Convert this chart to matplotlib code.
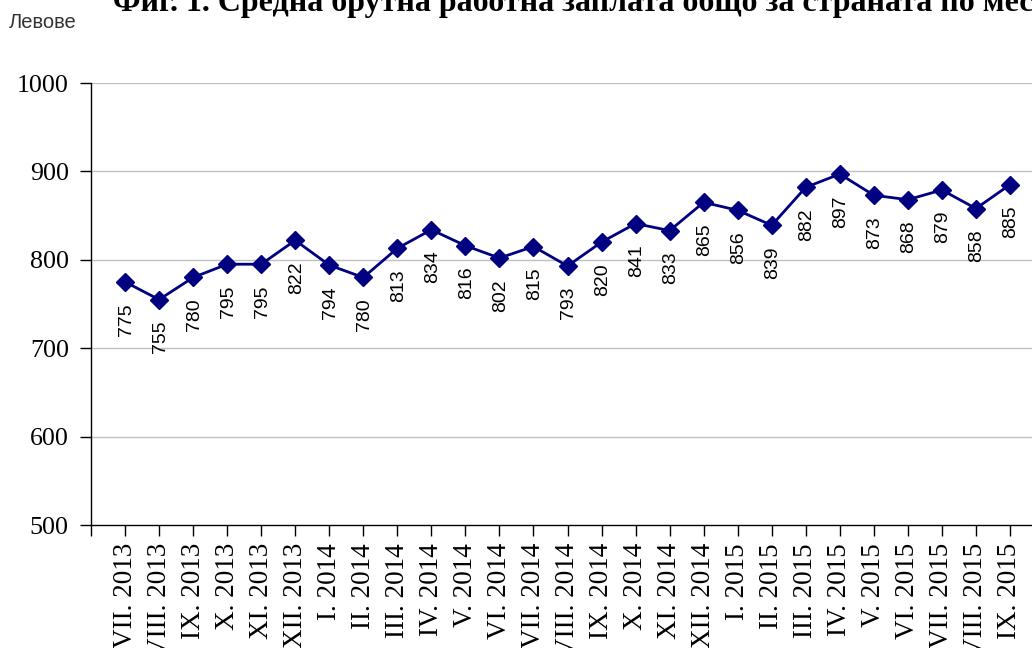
import matplotlib
matplotlib.use("Agg")
import matplotlib.pyplot as plt

months = ["VII. 2013", "VIII. 2013", "IX. 2013", "X. 2013", "XI. 2013", "XII. 2013",
          "I. 2014", "II. 2014", "III. 2014", "IV. 2014", "V. 2014", "VI. 2014",
          "VII. 2014", "VIII. 2014", "IX. 2014", "X. 2014", "XI. 2014", "XII. 2014",
          "I. 2015", "II. 2015", "III. 2015", "IV. 2015", "V. 2015", "VI. 2015",
          "VII. 2015", "VIII. 2015", "IX. 2015"]
wages = [775, 755, 780, 795, 795, 822, 794, 780, 813, 834, 816, 802, 815, 793,
         820, 841, 833, 865, 856, 839, 882, 897, 873, 868, 879, 858, 885]
y_ticks = [500, 600, 700, 800, 900, 1000]

title = "Фиг. 1. Средна брутна работна заплата общо за страната по месеци"
unit = "Левове"

fig = plt.figure(figsize=(10.32, 6.48), dpi=100)
W, H = 1032, 648
left, right, top, bottom = 91, 1044, 83, 525
ax = fig.add_axes([left / W, (H - bottom) / H, (right - left) / W, (bottom - top) / H])

x = list(range(len(wages)))
ax.plot(x, wages, color="#000080", lw=2, marker="D", markersize=9,
        markerfacecolor="#000080", markeredgecolor="#000080", zorder=3, clip_on=False)

for xi, v in zip(x, wages):
    ax.annotate(str(v), (xi, v), xytext=(1, -21), textcoords="offset pixels",
                rotation=90, ha="center", va="top", fontsize=14,
                family="Liberation Sans", color="#000000")

ax.set_xlim(-1, 27)
ax.set_ylim(500, 1000)
ax.set_yticks(y_ticks)
ax.set_yticklabels([str(t) for t in y_ticks], family="Liberation Serif", fontsize=18.7)
ax.set_xticks([-1] + x)
ax.set_xticklabels([""] + months, rotation=90, family="Liberation Serif",
                   fontsize=19.5, va="top")

for t in y_ticks[1:]:
    ax.axhline(t, color="#c0c0c0", lw=1, zorder=1)

for s in ["top", "right"]:
    ax.spines[s].set_visible(False)
ax.spines["left"].set_linewidth(1)
ax.spines["bottom"].set_linewidth(1)
ax.tick_params(axis="y", length=8, width=1, pad=8, direction="out")
ax.tick_params(axis="x", length=8, width=1, pad=5, direction="out")

fig.text(113 / W, 1 - 11 / H, title, family="Liberation Serif", fontweight="bold",
         fontsize=23, ha="left", va="baseline")
fig.text(9 / W, 1 - 28 / H, unit, family="Liberation Sans", fontsize=14.5,
         ha="left", va="baseline", color="#333333")

fig.savefig("out.png", dpi=100)
